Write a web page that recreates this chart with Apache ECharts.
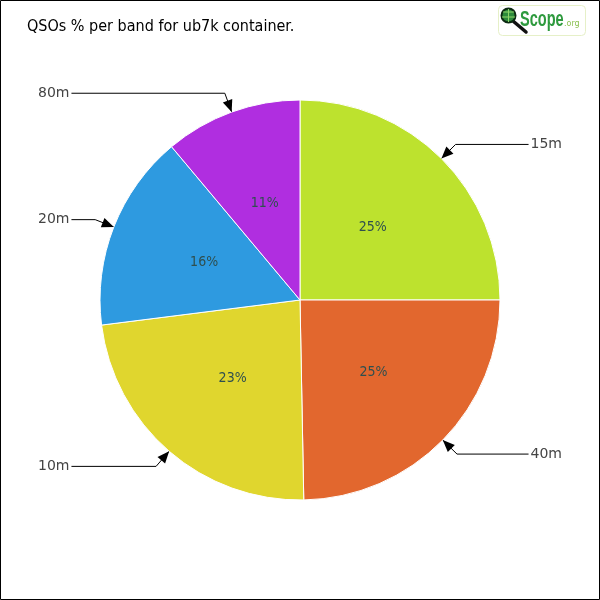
<!DOCTYPE html>
<html><head><meta charset="utf-8">
<script src="https://cdn.jsdelivr.net/npm/echarts@6/dist/echarts.min.js"></script>
<style>html,body{margin:0;padding:0;background:#fff}#c{width:600px;height:600px}</style>
</head><body><div id="c"></div>
<script>
const titleText = 'QSOs % per band for ub7k container.';
const bands = ['15m', '40m', '10m', '20m', '80m'];
const shares = [25.0, 24.7, 23.3, 15.9, 11.1];
const colors = ['#bde22e', '#e2672e', '#e0d62e', '#2e9ae0', '#b02ee0'];

const chart = echarts.init(document.getElementById('c'), null, {renderer: 'canvas'});
const data = bands.map((b, i) => ({name: b, value: shares[i], itemStyle: {color: colors[i]}}));

const option = {
  backgroundColor: '#fff',
  animation: false,
  title: {text: titleText, left: 22, top: 14,
    textStyle: {fontFamily: 'DejaVu Sans Condensed', fontSize: 16, fontWeight: 'normal', color: '#000'}},
  series: [{
    type: 'pie', center: [300, 300], radius: [0, 200], startAngle: 90, clockwise: true,
    itemStyle: {borderColor: '#fff', borderWidth: 1},
    data: data,
    label: {show: true, position: 'inside',
      formatter: p => Math.round(p.percent) + '%',
      fontFamily: 'DejaVu Sans Condensed', fontSize: 14, color: '#2f4f4f'},
    labelLine: {show: false}
  }, {
    type: 'pie', center: [300, 300], radius: [0, 200], startAngle: 90, clockwise: true,
    itemStyle: {color: 'rgba(0,0,0,0)', borderWidth: 0},
    silent: true,
    data: bands.map((b, i) => ({name: b, value: shares[i]})),
    label: {show: true, position: 'outside', alignTo: 'edge', edgeDistance: 38, distanceToLabelLine: 2,
      formatter: '{b}', fontFamily: 'DejaVu Sans', fontSize: 14, color: '#444'},
    labelLine: {show: true, length: 20, length2: 20, smooth: false, lineStyle: {color: '#000', width: 1}}
  }]
};
chart.setOption(option);

function drawExtras() {
  const seriesModel = chart.getModel().getSeriesByIndex(1);
  const sd = seriesModel.getData();
  const els = [];
  for (let i = 0; i < sd.count(); i++) {
    const L = sd.getItemLayout(i);
    const mid = (L.startAngle + L.endAngle) / 2;
    const dx = Math.cos(mid), dy = Math.sin(mid);
    const tipX = L.cx + dx * L.r, tipY = L.cy + dy * L.r;
    const len = 12, half = 5;
    const bx = tipX + dx * len, by = tipY + dy * len;
    const px = -dy, py = dx;
    els.push({type: 'polygon', z: 100, shape: {points: [[tipX, tipY], [bx + px * half, by + py * half], [bx - px * half, by - py * half]]},
      style: {fill: '#000'}});
  }
  // frame
  els.push({type: 'rect', z: 200, shape: {x: 0.5, y: 0.5, width: 599, height: 599}, style: {fill: null, stroke: '#000', lineWidth: 1}});
  // logo
  els.push({type: 'rect', z: 50, shape: {x: 498.5, y: 5.5, width: 87, height: 30, r: 4}, style: {fill: '#fff', stroke: '#e6f0c8', lineWidth: 1}});
  els.push({type: 'line', z: 51, shape: {x1: 513, y1: 21, x2: 526, y2: 32}, style: {stroke: '#111', lineWidth: 3.5, lineCap: 'round'}});
  els.push({type: 'circle', z: 52, shape: {cx: 508.5, cy: 15.5, r: 7}, style: {fill: '#2c8a3a', stroke: '#0d2a12', lineWidth: 2}});
  els.push({type: 'line', z: 53, shape: {x1: 503, y1: 12, x2: 514, y2: 12}, style: {stroke: '#8fd66a', lineWidth: 1}});
  els.push({type: 'line', z: 53, shape: {x1: 502, y1: 17, x2: 515, y2: 17}, style: {stroke: '#8fd66a', lineWidth: 1}});
  els.push({type: 'line', z: 53, shape: {x1: 508.5, y1: 9, x2: 508.5, y2: 22}, style: {stroke: '#8fd66a', lineWidth: 1}});
  els.push({type: 'text', z: 54, x: 520, y: 20, scaleX: 0.66, style: {x: 0, y: 0, text: 'Scope', fontFamily: 'Liberation Sans', fontWeight: 'bold', fontSize: 22, fill: '#2e9a3e', verticalAlign: 'middle', align: 'left'}});
  els.push({type: 'text', z: 54, x: 564, y: 24, style: {x: 0, y: 0, text: '.org', fontFamily: 'DejaVu Sans', fontSize: 8, fill: '#8cc152', verticalAlign: 'middle', align: 'left'}});
  chart.setOption({graphic: {elements: els}});
}
drawExtras();
</script></body></html>
